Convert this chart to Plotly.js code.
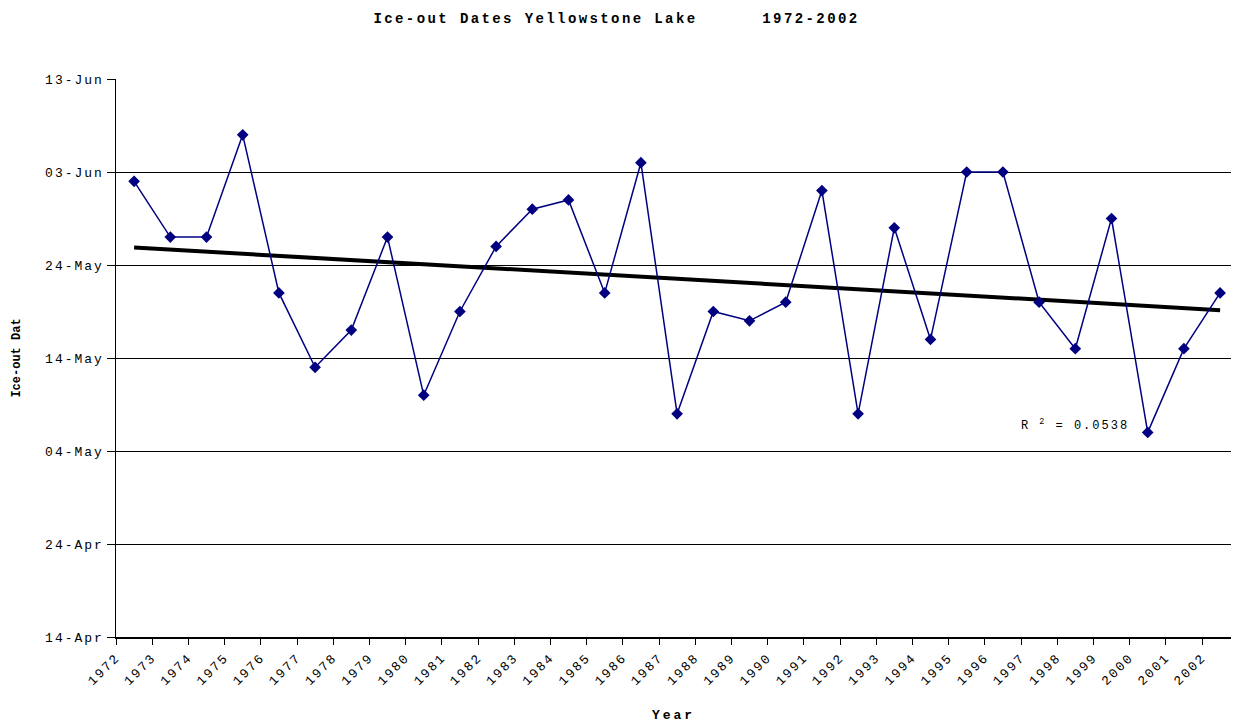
<!DOCTYPE html>
<html>
<head>
<meta charset="utf-8">
<script src="https://cdn.plot.ly/plotly-3.0.1.min.js"></script>
<style>
html,body{margin:0;padding:0;background:#fff;}
#chart{width:1233px;height:723px;}
.xtick text,.ytick text,.annotation-text{letter-spacing:2px;}
.gtitle{letter-spacing:2.4px;}
.xtitle{letter-spacing:3px;}
</style>
</head>
<body>
<div id="chart"></div>
<script>
const years = [1972,1973,1974,1975,1976,1977,1978,1979,1980,1981,1982,1983,1984,1985,1986,1987,1988,1989,1990,1991,1992,1993,1994,1995,1996,1997,1998,1999,2000,2001,2002];
const iceOut = ["06-02","05-27","05-27","06-07","05-21","05-13","05-17","05-27","05-10","05-19","05-26","05-30","05-31","05-21","06-04","05-08","05-19","05-18","05-20","06-01","05-08","05-28","05-16","06-03","06-03","05-20","05-15","05-29","05-06","05-15","05-21"];
const yTicks = ["04-14","04-24","05-04","05-14","05-24","06-03","06-13"];
const yTickLabels = ["14-Apr","24-Apr","04-May","14-May","24-May","03-Jun","13-Jun"];
const rSquaredText = "R <sup>2</sup> = 0.0538";

const BASE = "2001-";
const xs = years.map(y => y + 0.5);
const ys = iceOut.map(d => BASE + d);

// linear trendline from the data
const ms = ys.map(s => Date.parse(s + "T00:00:00Z"));
const n = xs.length;
const mx = xs.reduce((a,b)=>a+b,0)/n, my = ms.reduce((a,b)=>a+b,0)/n;
let sxy=0, sxx=0;
for (let i=0;i<n;i++){ sxy += (xs[i]-mx)*(ms[i]-my); sxx += (xs[i]-mx)**2; }
const slope = sxy/sxx, icpt = my - slope*mx;
const tx = [xs[0], xs[n-1]];
const ty = tx.map(x => new Date(icpt + slope*x).toISOString().slice(0,19).replace("T"," "));

const mono = "Liberation Mono, Courier New, monospace";
const data = [
  {x: tx, y: ty, mode: "lines", line: {color: "#000", width: 4}, hoverinfo: "skip", showlegend: false},
  {x: xs, y: ys, mode: "lines+markers", line: {color: "#000080", width: 1.5},
   marker: {symbol: "diamond", size: 9, color: "#000080"}, showlegend: false}
];
const layout = {
  width: 1233, height: 723,
  margin: {l: 116, r: 2, t: 79, b: 86},
  paper_bgcolor: "#fff", plot_bgcolor: "#fff",
  title: {text: "Ice-out Dates Yellowstone Lake\u00a0\u00a0\u00a0\u00a0\u00a0 1972-2002",
          font: {family: mono, size: 14, color: "#000", weight: "bold"}, x: 0.5, xanchor: "center", y: 0.975, yanchor: "middle"},
  xaxis: {
    range: [1972, 1972 + (1231-116)/36.2],
    tickvals: years, ticktext: years.map(String),
    tickangle: -45, ticks: "outside", ticklen: 6, tickcolor: "#000",
    showgrid: false, zeroline: false, showline: true, linecolor: "#000", linewidth: 1.5,
    tickfont: {family: mono, size: 13, color: "#000"},
    title: {text: "Year", font: {family: mono, size: 13, color: "#000", weight: "bold"}, standoff: 24}
  },
  yaxis: {
    type: "date",
    range: [BASE + yTicks[0], BASE + yTicks[yTicks.length-1]],
    tickvals: yTicks.map(d => BASE + d), ticktext: yTickLabels,
    ticks: "outside", ticklen: 8, tickcolor: "#000",
    showgrid: true, gridcolor: "#000", gridwidth: 1,
    zeroline: false, showline: true, linecolor: "#000", linewidth: 1.5,
    tickfont: {family: mono, size: 13, color: "#000"},
    title: {text: "Ice-out Dat", font: {family: mono, size: 12, color: "#000", weight: "bold"}, standoff: 22}
  },
  annotations: [{
    xref: "paper", yref: "paper", x: (1075-116)/(1231-116), xanchor: "center", y: (637-425)/(637-79),
    text: rSquaredText, showarrow: false, font: {family: mono, size: 12, color: "#000"}
  }]
};
Plotly.newPlot("chart", data, layout, {displayModeBar: false, staticPlot: true}).then(() => {
  // nudge R² label so its drawn (letter-spaced) text is centred where the reference puts it
  const t = document.querySelector(".annotation-text");
  if (t) {
    const b = t.getBBox();
    const g = t.closest(".annotation");
    const svgRect = document.querySelector(".main-svg").getBoundingClientRect();
    const r = t.getBoundingClientRect();
    const cx = r.left + r.width/2 - svgRect.left;
    const dx = 1075 - cx;
    t.setAttribute("transform", "translate(" + dx + ",0)");
  }
});
</script>
</body>
</html>
